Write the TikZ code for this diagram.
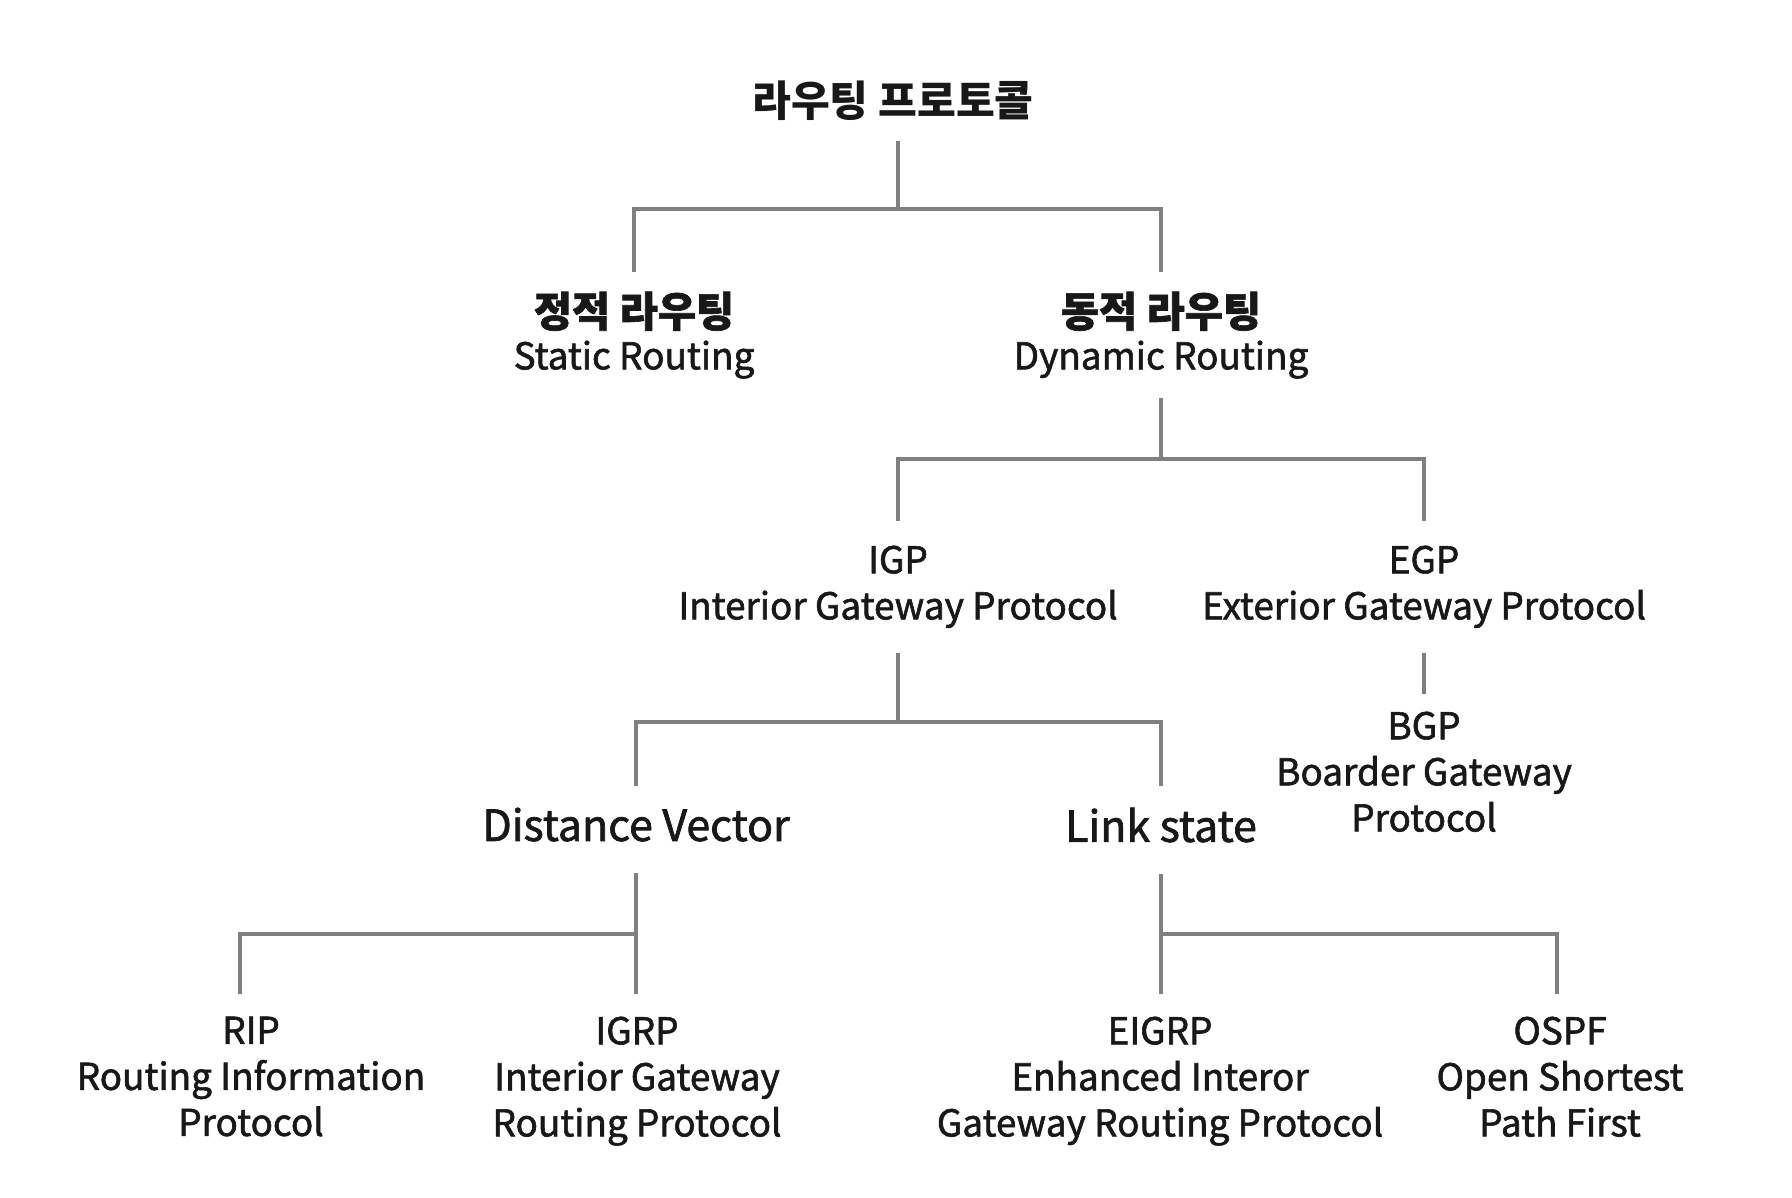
\documentclass[tikz,border=0pt]{standalone}
\usepackage{fontspec}
\setmainfont{Noto Sans CJK KR}
\newfontfamily\latinmed{Noto Sans CJK KR}[FakeBold=1.6]
\usepackage{tikz}
\usetikzlibrary{positioning}

\definecolor{linegray}{RGB}{128,128,128}
\definecolor{inkblack}{RGB}{24,24,24}

\newcommand{\kor}[1]{{\bfseries\fontsize{11.8}{13.4}\selectfont #1}}

\tikzset{
  proto/.style={align=center, text=inkblack, inner xsep=0pt, inner ysep=0.24cm,
    font=\latinmed\fontsize{10.5}{13.1}\selectfont},
  korproto/.style={proto, inner ysep=0.19cm},
  bigproto/.style={proto, inner ysep=0.21cm, text depth=0.3em,
    font=\latinmed\fontsize{12.2}{15}\selectfont},
  link/.style={draw=linegray, line width=1.2pt},
}

\begin{document}
\begin{tikzpicture}[x=0.01cm,y=-0.01cm]
\useasboundingbox (0,0) rectangle (1792,1198);

% top of the tree
\node[korproto, font=\bfseries\fontsize{12}{14}\selectfont] (root) at (893,101) {라우팅 프로토콜};
\node[korproto, anchor=north] (static) at (634,272) {\kor{정적 라우팅}\\[-1pt]Static Routing};
\node[korproto, anchor=north] (dynamic) at (1161,272) {\kor{동적 라우팅}\\[-1pt]Dynamic Routing};

% second and third level
\node[proto, anchor=north] (igp) at (898,521) {IGP\\Interior Gateway Protocol};
\node[proto, anchor=north] (egp) at (1424,521) {EGP\\Exterior Gateway Protocol};
\node[proto, anchor=north, inner ysep=0.17cm] (bgp) at (1424,694) {BGP\\Boarder Gateway\\Protocol};
\node[bigproto, anchor=north] (dv) at (636,786) {Distance Vector};
\node[bigproto, anchor=north] (ls) at (1161,786) {Link state};

% leaves
\foreach \name/\x/\abbr/\lineA/\lineB in {
    rip/251/RIP/Routing Information/Protocol,
    igrp/637/IGRP/Interior Gateway/Routing Protocol,
    eigrp/1160/EIGRP/Enhanced Interor/Gateway Routing Protocol,
    ospf/1560/OSPF/Open Shortest/Path First
} {
    \node[proto, anchor=north, inner ysep=0.22cm] (\name) at (\x,994) {\abbr\\\lineA\\\lineB};
}

% junctions
\coordinate (jroot) at (898,209);
\coordinate (jdyn) at (1161,459);
\coordinate (jigp) at (898,722);
\coordinate (jdv) at (636,934);
\coordinate (jls) at (1161,934);

\draw[link] (jroot |- root.south) -- (jroot) -| (static.north);
\draw[link] (jroot) -| (dynamic.north);

\draw[link] (jdyn |- dynamic.south) -- (jdyn) -| (igp.north);
\draw[link] (jdyn) -| (egp.north);

\draw[link] (jigp |- igp.south) -- (jigp) -| (dv.north);
\draw[link] (jigp) -| (ls.north);

\draw[link] (egp.south) -- (bgp.north);

\draw[link] (jdv |- dv.south) -- (jdv |- igrp.north);
\draw[link] (jdv) -| ([xshift=-0.11cm]rip.north);

\draw[link] (jls |- ls.south) -- (jls |- eigrp.north);
\draw[link] (jls) -| ([xshift=-0.03cm]ospf.north);
\end{tikzpicture}
\end{document}
